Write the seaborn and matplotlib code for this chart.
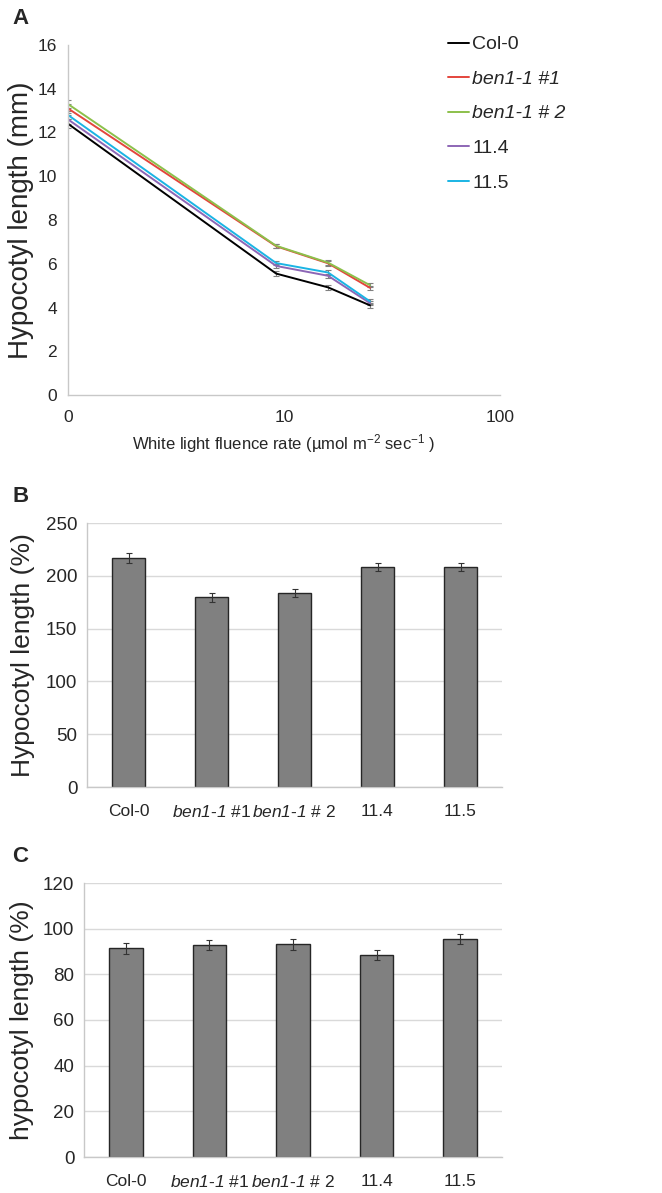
import matplotlib
matplotlib.use("Agg")
import matplotlib.pyplot as plt
import seaborn as sns
import numpy as np
import pandas as pd
from matplotlib.lines import Line2D

# ---------------- data ----------------
genotypes = ["Col-0", "ben1-1 #1", "ben1-1 # 2", "11.4", "11.5"]
fluence = [1, 9.2, 16, 25]          # first point plotted at "0" (log axis position 1)
len_col0 = [12.4, 5.55, 4.92, 4.10]
len_ben1 = [13.1, 6.80, 6.02, 4.90]
len_ben2 = [13.3, 6.82, 6.05, 5.02]
len_114 = [12.6, 5.90, 5.45, 4.20]
len_115 = [12.8, 6.03, 5.60, 4.28]
err_a = [0.20, 0.10, 0.10, 0.10]

pct_b = [216.8, 179.8, 183.6, 208.3, 208.3]
err_b = [4.4, 4.2, 4.0, 4.0, 4.0]
pct_c = [91.4, 92.8, 93.1, 88.5, 95.5]
err_c = [2.3, 2.2, 2.5, 2.3, 2.0]

line_colors = ["#000000", "#e4453c", "#8cc04b", "#8d66b6", "#1ab4e4"]
xtick_labels = ["Col-0", r"$\mathsf{ben1}$-$\mathsf{1}$ #1", r"$\mathsf{ben1}$-$\mathsf{1}$ # 2", "11.4", "11.5"]

# ---------------- style ----------------
sns.set_theme(style="white")
plt.rcParams["font.family"] = ["Liberation Sans", "DejaVu Sans"]
plt.rcParams["mathtext.fontset"] = "custom"
plt.rcParams["mathtext.rm"] = "Liberation Sans"
plt.rcParams["mathtext.it"] = "Liberation Sans:italic"
plt.rcParams["mathtext.sf"] = "Liberation Sans:italic"
plt.rcParams["mathtext.bf"] = "Liberation Sans:bold"

W, H = 662, 1193
fig = plt.figure(figsize=(W / 100, H / 100), dpi=100)

def ax_px(left, right, top, bottom):
    return fig.add_axes([left / W, 1 - bottom / H, (right - left) / W, (bottom - top) / H])

spine_col = "#c8c8c8"
grid_col = "#d9d9d9"

# ---------------- panel A ----------------
axA = ax_px(68, 500, 45, 395)
series = [len_col0, len_ben1, len_ben2, len_114, len_115]
rows = []
for g, vals in zip(genotypes, series):
    for xv, yv in zip(fluence, vals):
        rows.append({"fluence": xv, "length": yv, "genotype": g})
dfA = pd.DataFrame(rows)
sns.lineplot(data=dfA, x="fluence", y="length", hue="genotype", hue_order=genotypes,
             palette=line_colors, ax=axA, legend=False, linewidth=1.4)
for g, vals in zip(genotypes, series):
    axA.errorbar(fluence, vals, yerr=err_a, fmt="none", ecolor="#808080",
                 elinewidth=0.8, capsize=2, capthick=0.8, zorder=1)
axA.set_xscale("log")
axA.set_xlim(1, 100)
axA.set_ylim(0, 16)
axA.set_xticks([1, 10, 100])
axA.set_xticklabels(["0", "10", "100"])
axA.xaxis.set_minor_locator(matplotlib.ticker.NullLocator())
axA.set_yticks(range(0, 17, 2))
for s in ["top", "right"]:
    axA.spines[s].set_visible(False)
for s in ["left", "bottom"]:
    axA.spines[s].set_color(spine_col)
    axA.spines[s].set_linewidth(1.0)
axA.tick_params(axis="both", which="major", direction="out", length=4, width=1,
                color=spine_col, labelsize=12.5, pad=4)
axA.tick_params(axis="x", pad=7)
axA.set_xlabel(r"White light fluence rate (µmol m$^{\mathregular{-2}}$ sec$^{\mathregular{-1}}$ )",
               fontsize=12, labelpad=5)
axA.set_ylabel("Hypocotyl length (mm)", fontsize=20)
axA.yaxis.set_label_coords(-0.078, 0.5)
axA.grid(False)

handles = [Line2D([0], [0], color=c, lw=1.4) for c in line_colors]
leg = fig.legend(handles, genotypes, loc="upper left", bbox_to_anchor=(440 / W, 1 - 28 / H),
                 frameon=False, fontsize=14, handlelength=1.1, handletextpad=0.15,
                 labelspacing=0.87, borderaxespad=0)
for t in leg.get_texts()[1:3]:
    t.set_fontstyle("italic")

# ---------------- bar panels ----------------
def bar_panel(ax, vals, errs, ymax, step, ylabel, ycoord):
    dfb = pd.DataFrame({"genotype": genotypes, "value": vals})
    sns.barplot(data=dfb, x="genotype", y="value", order=genotypes, color="#808080",
                width=0.4, edgecolor="#262626", linewidth=1.0, ax=ax, saturation=1)
    ax.errorbar(range(len(vals)), vals, yerr=errs, fmt="none", ecolor="#333333",
                elinewidth=0.8, capsize=2.5, capthick=0.8, zorder=5)
    ax.set_xlim(-0.5, len(vals) - 0.5)
    ax.set_ylim(0, ymax)
    ax.set_yticks(np.arange(0, ymax + 0.1, step))
    ax.yaxis.grid(True, color=grid_col, linewidth=1.0)
    ax.set_axisbelow(True)
    for s in ["top", "right"]:
        ax.spines[s].set_visible(False)
    for s in ["left", "bottom"]:
        ax.spines[s].set_color(spine_col)
        ax.spines[s].set_linewidth(1.0)
    ax.set_xticks(range(len(vals)))
    ax.set_xticklabels(xtick_labels)
    ax.set_xticks(np.arange(-0.5, len(vals)), minor=True)
    ax.tick_params(axis="x", which="major", length=0, labelsize=12.5, pad=12)
    ax.tick_params(axis="x", which="minor", length=6, width=1, color=spine_col, direction="out")
    ax.tick_params(axis="y", which="major", length=4, width=1, color=spine_col,
                   direction="out", labelsize=13.5, pad=3)
    ax.set_xlabel("")
    ax.set_ylabel(ylabel, fontsize=19)
    ax.yaxis.set_label_coords(ycoord, 0.5)

axB = ax_px(87, 502, 523, 787)
bar_panel(axB, pct_b, err_b, 250, 50, "Hypocotyl length (%)", -0.125)
axC = ax_px(84, 502, 883, 1157)
bar_panel(axC, pct_c, err_c, 120, 20, "hypocotyl length (%)", -0.12)

# panel letters
for letter, ypx in [("A", 18), ("B", 497), ("C", 857)]:
    fig.text(12 / W, 1 - ypx / H, letter, fontsize=16, fontweight="bold",
             ha="left", va="center")

fig.savefig("out.png", dpi=100)
